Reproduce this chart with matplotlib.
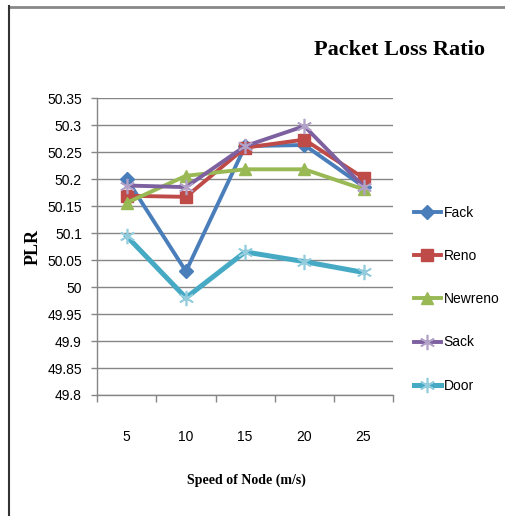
import matplotlib
matplotlib.use("Agg")
import matplotlib.pyplot as plt
from matplotlib.lines import Line2D
import numpy as np

speeds = ["5", "10", "15", "20", "25"]
fack = [50.200, 50.029, 50.261, 50.263, 50.186]
reno = [50.169, 50.167, 50.258, 50.273, 50.202]
newreno = [50.156, 50.206, 50.218, 50.218, 50.181]
sack = [50.188, 50.185, 50.261, 50.298, 50.186]
door = [50.094, 49.980, 50.065, 50.047, 50.027]
yticks = [49.8, 49.85, 49.9, 49.95, 50, 50.05, 50.1, 50.15, 50.2, 50.25, 50.3, 50.35]

sans = ["Liberation Sans", "DejaVu Sans"]
serif = ["Liberation Serif", "DejaVu Serif"]

fig = plt.figure(figsize=(5.06, 5.16), dpi=100)
ax = fig.add_axes([0.192, 0.2345, 0.585, 0.5755])

x = np.arange(len(speeds))
series = [
    ("Fack", fack, "#4A7EBB", dict(marker="D", ms=7, mfc="#4A7EBB", mec="#4A7EBB"), 2.8),
    ("Reno", reno, "#BE4B48", dict(marker="s", ms=9, mfc="#BE4B48", mec="#BE4B48"), 2.8),
    ("Newreno", newreno, "#98B954", dict(marker="^", ms=9, mfc="#98B954", mec="#98B954"), 2.8),
    ("Sack", sack, "#7D60A0", dict(marker=(6, 2, 0), ms=11, mec="#B3A2C7", mew=1.2), 2.8),
    ("Door", door, "#46AAC5", dict(marker=(6, 2, 0), ms=11, mec="#93CDDD", mew=1.2), 3.6),
]
for name, vals, col, mk, lw in series:
    ax.plot(x, vals, color=col, lw=lw, label=name, **mk)

ax.set_xlim(-0.5, len(speeds) - 0.5)
ax.set_ylim(49.8, 50.35)
ax.set_yticks(yticks)
ax.set_yticklabels([f"{v:g}" for v in yticks], family=sans, fontsize=10)
ax.set_xticks(x)
ax.set_xticklabels(speeds, family=sans, fontsize=10)
ax.set_xticks(np.arange(-0.5, len(speeds)), minor=True)
ax.tick_params(axis="x", which="major", length=0, pad=25)
ax.tick_params(axis="x", which="minor", length=5, color="#868686", width=1)
ax.tick_params(axis="y", length=4, color="#868686", width=1, pad=7)
ax.grid(axis="y", color="#868686", lw=1)
ax.set_axisbelow(True)
for s in ("top", "right"):
    ax.spines[s].set_visible(False)
for s in ("left", "bottom"):
    ax.spines[s].set_color("#868686")
    ax.spines[s].set_linewidth(1)

xl = ax.set_xlabel("Speed of Node (m/s)", family=serif, fontweight="bold", fontsize=10)
xl.set_va("center")
ax.xaxis.set_label_coords(0.503, -0.286)
yl = ax.set_ylabel("PLR", family=serif, fontweight="bold", fontsize=13)
yl.set_va("center")
ax.yaxis.set_label_coords(-0.216, 0.499)

fig.text(0.789, 0.903, "Packet Loss Ratio", family=serif, fontweight="bold",
         fontsize=16, ha="center", va="center")

leg = fig.legend(loc="upper left", bbox_to_anchor=(0.818, 0.601), frameon=False,
                 prop={"family": sans, "size": 10}, labelspacing=2.1,
                 handlelength=1.95, handletextpad=0.2, borderaxespad=0, borderpad=0)

# frame edges
fig.add_artist(Line2D([9 / 506, 1], [1 - 7 / 516, 1 - 7 / 516], transform=fig.transFigure,
                      color="#888888", lw=2))
fig.add_artist(Line2D([9 / 506, 9 / 506], [0, 1 - 6 / 516], transform=fig.transFigure,
                      color="#333333", lw=1.5))

fig.savefig("out.png", dpi=100)
